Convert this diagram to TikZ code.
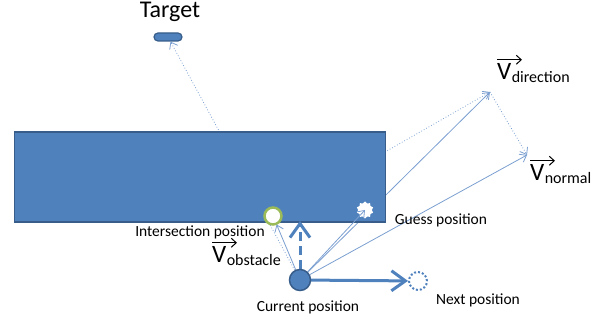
\documentclass[tikz,border=0pt]{standalone}
\usepackage{fontspec}
\setmainfont{Carlito}
\usetikzlibrary{arrows.meta,shapes.geometric,shapes.misc}
\definecolor{rectfill}{HTML}{4F81BD}
\definecolor{rectborder}{HTML}{385D8A}
\definecolor{thinblue}{HTML}{7B9FD0}
\definecolor{ringgreen}{HTML}{9BBB59}
\tikzset{
  thin arrow/.style={draw=thinblue, line width=0.8pt, -{Straight Barb[length=6pt,width=9pt]}},
  dot arrow/.style={draw=thinblue, line width=0.8pt, dotted, -{Straight Barb[length=6pt,width=9pt]}},
  thick arrow/.style={draw=rectfill, line width=3pt, -{Straight Barb[length=14pt,width=20pt,line width=3pt]}},
  lbl/.style={font=\fontsize{15.5}{17}\selectfont, inner sep=0pt},
  vsym/.style={font=\fontsize{25}{25}\selectfont, inner sep=0pt, anchor=base west},
  vsub/.style={font=\fontsize{16}{17}\selectfont, inner sep=0pt, anchor=base west},
  vec arrow/.style={draw=black, line width=1pt, -{Straight Barb[length=5pt,width=9pt]}}
}
\begin{document}
\begin{tikzpicture}[x=1pt,y=-1pt]
\useasboundingbox (0,0) rectangle (597,320);
% named points
\coordinate (vdir) at (490,92);
\coordinate (vnorm) at (527,155);
\coordinate (up) at (300,221);
\node[circle, minimum size=22pt, inner sep=0pt] (cur) at (300,280) {};
\node[circle, minimum size=18pt, inner sep=0pt] (inter) at (273,216) {};
\node[rounded rectangle, draw=rectborder, fill=rectfill, line width=1.2pt, minimum width=28pt, minimum height=8pt, inner sep=0pt] (target) at (168,37) {};
% lines behind the wall
\draw[dot arrow] (cur) -- (target);
\draw[dot arrow] (inter.center) -- (vdir);
\draw[thin arrow] (cur) -- (vdir);
% wall
\node[draw=rectborder, fill=rectfill, line width=1.5pt, minimum width=371pt, minimum height=90pt, anchor=north west, inner sep=0pt] (wall) at (13.5,131.5) {};
% front items
\node[star, star points=10, star point ratio=1.25, fill=white, minimum size=17pt, inner sep=0pt] (guess) at (365,210) {};
\node[circle, draw=ringgreen, fill=white, line width=2.5pt, minimum size=17pt, inner sep=0pt] at (273,216) {};
\node[circle, draw=rectfill, dotted, line width=2pt, minimum size=18pt, inner sep=0pt] (next) at (418,281) {};
\draw[thin arrow] (cur) -- (guess.center);
\draw[thin arrow] (cur) -- (vnorm);
\draw[dot arrow] (vdir) -- (vnorm);
\draw[thin arrow] (cur) -- (inter);
\draw[thick arrow, dash pattern=on 9pt off 5pt] (cur) -- (up);
\draw[thick arrow] (cur) -- (next);
\node[circle, draw=rectborder, fill=rectfill, line width=1.5pt, minimum size=21pt, inner sep=0pt] at (300,280) {};
% labels
\node[inner sep=0pt, font=\fontsize{24}{26}\selectfont] (tlabel) at (170,12) {Target};
\node[lbl] (ilabel) at (200,232) {Intersection position};
\node[lbl] (glabel) at (441,220) {Guess position};
\node[lbl] (clabel) at (308,307) {Current position};
\node[lbl] (nlabel) at (478,300) {Next position};
% vector labels
\node[vsym] (vO) at (212,263) {V};
\node[vsub] (vOs) at ([yshift=-3pt]vO.base east) {obstacle};
\draw[vec arrow] ([yshift=4pt]vO.north west) -- ++(25,0);
\node[vsym] (vD) at (497,80) {V};
\node[vsub] (vDs) at ([yshift=-3pt]vD.base east) {direction};
\draw[vec arrow] ([yshift=4pt]vD.north west) -- ++(25,0);
\node[vsym] (vN) at (530,181) {V};
\node[vsub] (vNs) at ([yshift=-3pt]vN.base east) {normal};
\draw[vec arrow] ([yshift=4pt]vN.north west) -- ++(25,0);
\end{tikzpicture}
\end{document}
